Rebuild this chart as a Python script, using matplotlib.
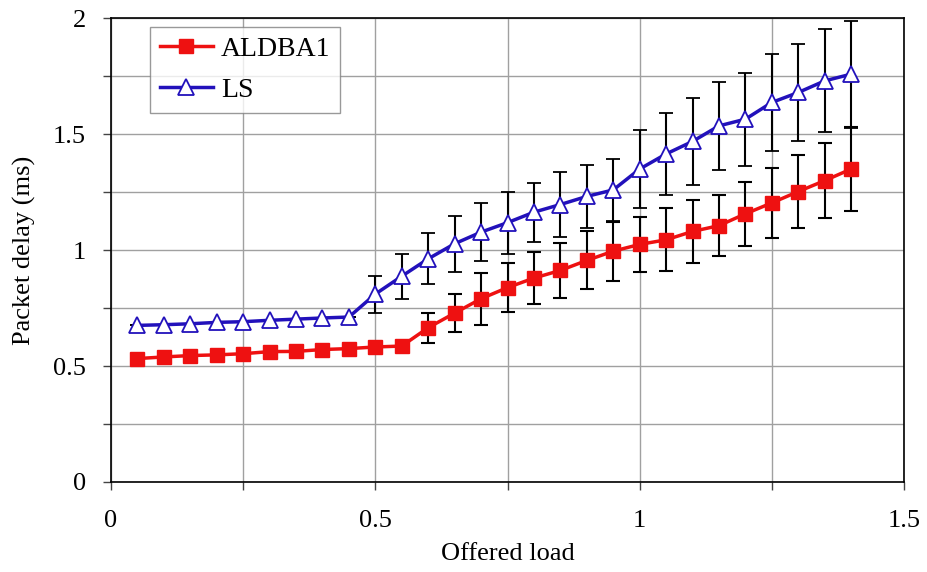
import matplotlib
matplotlib.use("Agg")
import matplotlib.pyplot as plt
from matplotlib.ticker import MultipleLocator
from matplotlib.lines import Line2D

offered_load = [0.05, 0.10, 0.15, 0.20, 0.25, 0.30, 0.35, 0.40, 0.45, 0.50,
                0.55, 0.60, 0.65, 0.70, 0.75, 0.80, 0.85, 0.90, 0.95, 1.00,
                1.05, 1.10, 1.15, 1.20, 1.25, 1.30, 1.35, 1.40]

aldba1 = [0.532, 0.539, 0.545, 0.548, 0.553, 0.562, 0.563, 0.571, 0.575, 0.582,
          0.586, 0.665, 0.728, 0.790, 0.838, 0.879, 0.912, 0.955, 0.995, 1.024,
          1.044, 1.080, 1.105, 1.156, 1.203, 1.252, 1.299, 1.349]
aldba1_err = [0, 0, 0, 0, 0, 0, 0, 0, 0, 0,
              0, 0.065, 0.082, 0.113, 0.107, 0.113, 0.120, 0.125, 0.127, 0.119,
              0.135, 0.134, 0.130, 0.137, 0.150, 0.158, 0.163, 0.183]

ls = [0.675, 0.678, 0.682, 0.688, 0.691, 0.697, 0.702, 0.707, 0.711, 0.810,
      0.887, 0.962, 1.027, 1.077, 1.118, 1.163, 1.196, 1.231, 1.259, 1.349,
      1.414, 1.468, 1.535, 1.564, 1.636, 1.679, 1.729, 1.758]
ls_err = [0, 0, 0, 0, 0, 0, 0, 0, 0, 0.080,
          0.097, 0.110, 0.120, 0.126, 0.134, 0.127, 0.140, 0.135, 0.133, 0.170,
          0.175, 0.187, 0.190, 0.200, 0.210, 0.210, 0.222, 0.230]

series_names = ['ALDBA1', 'LS']

plt.rcParams['font.family'] = ['Liberation Serif', 'DejaVu Serif']

fig = plt.figure(figsize=(9.27, 5.72), dpi=100)
ax = fig.add_axes([111/927, 1 - 482/572, (904 - 111)/927, (482 - 18)/572])

red = '#ee1111'
blue = '#2211bb'

red_style = dict(color=red, lw=2.5, marker='s', markersize=9.5,
                 markerfacecolor=red, markeredgecolor=red)
blue_style = dict(color=blue, lw=2.5, marker='^', markersize=11,
                  markerfacecolor='white', markeredgecolor=blue,
                  markeredgewidth=1.3)

ax.errorbar(offered_load, aldba1, yerr=aldba1_err, ecolor='black',
            elinewidth=1.5, capsize=5, capthick=1.5, zorder=3, **red_style)
ax.errorbar(offered_load, ls, yerr=ls_err, ecolor='black',
            elinewidth=1.5, capsize=5, capthick=1.5, zorder=3, **blue_style)

ax.set_xlim(0, 1.5)
ax.set_ylim(0, 2)
ax.xaxis.set_major_locator(MultipleLocator(0.5))
ax.xaxis.set_minor_locator(MultipleLocator(0.25))
ax.yaxis.set_major_locator(MultipleLocator(0.5))
ax.yaxis.set_minor_locator(MultipleLocator(0.25))
ax.xaxis.set_major_formatter(plt.FuncFormatter(lambda v, p: f"{v:g}"))
ax.yaxis.set_major_formatter(plt.FuncFormatter(lambda v, p: f"{v:g}"))
ax.grid(True, which='both', color='#a0a0a0', lw=1.0)
ax.set_axisbelow(True)
ax.tick_params(which='both', direction='out', length=6, width=1, labelsize=19,
               color='#444444')
ax.tick_params(axis='x', pad=14)
ax.tick_params(axis='y', pad=12)
for s in ax.spines.values():
    s.set_color('black')
    s.set_linewidth(1.2)

ax.set_xlabel('Offered load', fontsize=19, labelpad=8)
ax.set_ylabel('Packet delay (ms)', fontsize=19, labelpad=12)

handles = [Line2D([], [], **red_style), Line2D([], [], **blue_style)]
leg = ax.legend(handles, series_names, loc='upper left',
                bbox_to_anchor=(39/793, 1 - 9/464),
                borderaxespad=0, fontsize=20, frameon=True, fancybox=False,
                edgecolor='#808080', handlelength=1.9, handletextpad=0.3,
                borderpad=0.35, labelspacing=0.55, numpoints=1)
leg.get_frame().set_linewidth(1.0)

fig.savefig('out.png', dpi=100, facecolor='white')
